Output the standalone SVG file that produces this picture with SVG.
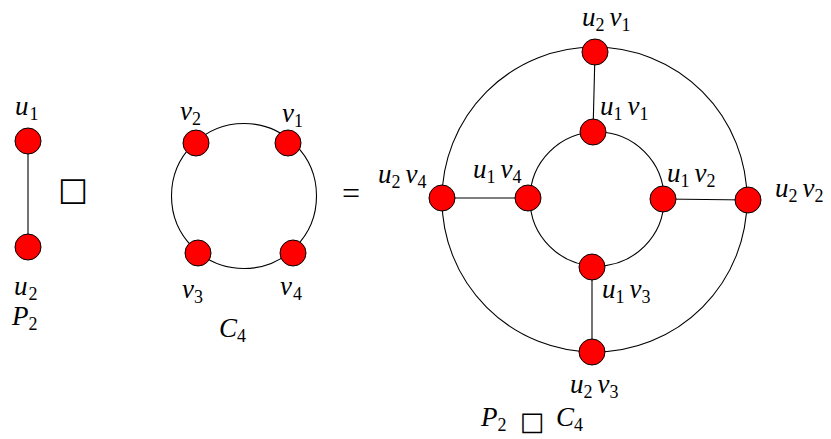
<svg xmlns="http://www.w3.org/2000/svg" width="831" height="439" viewBox="0 0 831 439">
<style>
.e{stroke:#000;stroke-width:1.1;fill:none}
.n{fill:#f00;stroke:#000;stroke-width:1}
.t{font-family:"Liberation Serif",serif;font-style:italic;font-size:27px;fill:#000}
.s{font-size:18px;font-style:normal}
.op{font-family:"DejaVu Sans",sans-serif;font-style:normal;fill:#000}
.eq{font-family:"Liberation Serif",serif;font-size:32px;fill:#000}
</style>
<rect width="831" height="439" fill="#fff"/>
<g id="connectors">
<line class="e" x1="28" y1="141" x2="28" y2="247"/>
<circle class="e" cx="244" cy="196" r="72.5"/>
<circle class="e" cx="594.5" cy="199.5" r="152.5"/>
<circle class="e" cx="597" cy="199" r="67"/>
<line class="e" x1="595" y1="52" x2="593" y2="132"/>
<line class="e" x1="442" y1="198" x2="528" y2="198"/>
<line class="e" x1="663" y1="199" x2="748" y2="200"/>
<line class="e" x1="592" y1="267" x2="592" y2="352"/>
</g>
<g id="u1"><circle class="n" cx="28" cy="141" r="13"/><text class="t" x="15" y="115">u<tspan class="s" dx="1" dy="5">1</tspan></text></g>
<g id="u2"><circle class="n" cx="28" cy="247" r="13"/><text class="t" x="14" y="295">u<tspan class="s" dx="1" dy="5">2</tspan></text></g>
<g id="labelP2"><text class="t" x="12" y="325">P<tspan class="s" dx="0" dy="5">2</tspan></text></g>
<g id="box"><text class="op" x="73" y="200" font-size="32" text-anchor="middle">□</text></g>
<g id="v2"><circle class="n" cx="196" cy="143" r="13"/><text class="t" x="180" y="120">v<tspan class="s" dx="0" dy="5">2</tspan></text></g>
<g id="v1"><circle class="n" cx="288" cy="143" r="13"/><text class="t" x="282" y="122">v<tspan class="s" dx="0" dy="5">1</tspan></text></g>
<g id="v3"><circle class="n" cx="198" cy="253" r="13"/><text class="t" x="182" y="298">v<tspan class="s" dx="0" dy="5">3</tspan></text></g>
<g id="v4"><circle class="n" cx="293" cy="253" r="13"/><text class="t" x="280" y="295">v<tspan class="s" dx="1" dy="5">4</tspan></text></g>
<g id="labelC4"><text class="t" x="219" y="337">C<tspan class="s" dx="0" dy="5">4</tspan></text></g>
<g id="equals"><text class="eq" x="351" y="204" text-anchor="middle">=</text></g>
<g id="u2v1"><circle class="n" cx="595" cy="52" r="13"/><text class="t" x="582" y="26">u<tspan class="s" dy="5">2</tspan><tspan dx="5" dy="-5">v</tspan><tspan class="s" dy="5">1</tspan></text></g>
<g id="u1v1"><circle class="n" cx="593" cy="132" r="13"/><text class="t" x="600" y="115">u<tspan class="s" dy="5">1</tspan><tspan dx="5" dy="-5">v</tspan><tspan class="s" dy="5">1</tspan></text></g>
<g id="u2v4"><circle class="n" cx="442" cy="198" r="13"/><text class="t" x="378" y="183">u<tspan class="s" dy="5">2</tspan><tspan dx="5" dy="-5">v</tspan><tspan class="s" dy="5">4</tspan></text></g>
<g id="u1v4"><circle class="n" cx="528" cy="198" r="13"/><text class="t" x="473" y="178">u<tspan class="s" dy="5">1</tspan><tspan dx="5" dy="-5">v</tspan><tspan class="s" dy="5">4</tspan></text></g>
<g id="u1v2"><circle class="n" cx="663" cy="199" r="13"/><text class="t" x="667" y="182">u<tspan class="s" dy="5">1</tspan><tspan dx="5" dy="-5">v</tspan><tspan class="s" dy="5">2</tspan></text></g>
<g id="u2v2"><circle class="n" cx="748" cy="200" r="13"/><text class="t" x="775" y="197">u<tspan class="s" dy="5">2</tspan><tspan dx="5" dy="-5">v</tspan><tspan class="s" dy="5">2</tspan></text></g>
<g id="u1v3"><circle class="n" cx="592" cy="267" r="13"/><text class="t" x="602" y="298">u<tspan class="s" dy="5">1</tspan><tspan dx="5" dy="-5">v</tspan><tspan class="s" dy="5">3</tspan></text></g>
<g id="u2v3"><circle class="n" cx="592" cy="352" r="13"/><text class="t" x="570" y="393">u<tspan class="s" dy="5">2</tspan><tspan dx="5" dy="-5">v</tspan><tspan class="s" dy="5">3</tspan></text></g>
<g id="labelProduct"><text class="t" x="481" y="426">P<tspan class="s" dy="5">2</tspan><tspan class="op" x="532" dy="-1" font-size="26" text-anchor="middle">□</tspan><tspan x="556" dy="-4">C</tspan><tspan class="s" dy="5">4</tspan></text></g>
</svg>
